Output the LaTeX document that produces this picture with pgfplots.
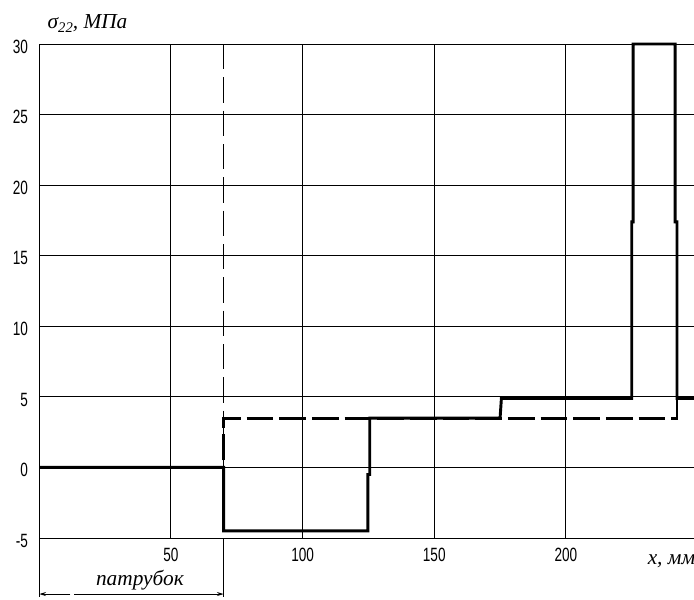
\documentclass[border=0pt]{standalone}
\usepackage{fontspec}
\setmainfont{Liberation Serif}
\newfontfamily\sansf{Liberation Sans}
\usepackage{pgfplots}
\pgfplotsset{compat=1.18}
\usetikzlibrary{arrows.meta}

\newcommand{\tl}[1]{\scalebox{0.85}[1.2]{\sansf\fontsize{12}{12}\selectfont #1}}

\begin{document}
\begin{tikzpicture}
\begin{axis}[
    scale only axis,
    width=493.7pt, height=370.5pt,
    xmin=0, xmax=250,
    ymin=-5, ymax=30,
    clip=false,
    axis line style={line width=0.75pt},
    xtick={50,100,150,200},
    ytick={-5,0,5,10,15,20,25,30},
    xticklabels={\tl{50},\tl{100},\tl{150},\tl{200}},
    yticklabels={\tl{-5},\tl{0},\tl{5},\tl{10},\tl{15},\tl{20},\tl{25},\tl{30}},
    major tick length=0pt,
    grid=major,
    major grid style={black, line width=0.75pt},
    xticklabel style={yshift=-4pt},
    yticklabel style={xshift=-5pt, yshift=-2pt},
]

% boundary of the pipe branch (thin dashed)
\addplot[black, line width=0.9pt, dash pattern=on 19pt off 6pt] coordinates {
    (70,30) (70,0)
};

% sigma_22, dashed curve
\addplot[black, line width=2.2pt, dash pattern=on 20pt off 4.5pt] coordinates {
    (70,0.5) (70,3.5) (242.2,3.5) (242.2,5)
};

% sigma_22, solid curve
\addplot[black, line width=2.2pt] coordinates {
    (0,0) (70,0) (70,-4.5) (124.8,-4.5) (124.8,-0.5)
    (125.5,-0.5) (125.5,3.5) (175,3.5) (175.5,4.9)
    (225,4.9) (225,17.4) (225.5,17.4) (225.5,30)
    (241.5,30) (241.5,17.4) (242.2,17.4) (242.2,4.9) (250,4.9)
};

% dimension line for the branch
\draw[black, line width=0.75pt] (axis cs:0,-5) -- (axis cs:0,-9.2);
\draw[black, line width=0.75pt] (axis cs:70,-5) -- (axis cs:70,-9.2);
\draw[black, line width=0.75pt, -{Stealth[length=5pt,width=3pt]}] (axis cs:11.8,-8.97) -- (axis cs:0,-8.97);
\draw[black, line width=0.75pt, -{Stealth[length=5pt,width=3pt]}] (axis cs:13.2,-8.97) -- (axis cs:70,-8.97);
\node[anchor=base, font=\itshape\fontsize{16}{16}\selectfont] at (axis cs:38.2,-8.33) {патрубок};

\node[anchor=base west, font=\itshape\fontsize{16}{16}\selectfont] at (axis cs:1.4,31.1) {σ\raisebox{-0.45ex}{\fontsize{11}{11}\selectfont 22}, МПа};
\node[anchor=base west, font=\itshape\fontsize{16}{16}\selectfont] at (axis cs:229.3,-6.91) {x, мм};

\coordinate (BL) at (axis cs:-14.93,-9.39);
\coordinate (TR) at (axis cs:248.65,33.12);
\end{axis}
\pgfresetboundingbox
\useasboundingbox (BL) rectangle (TR);
\end{tikzpicture}
\end{document}
